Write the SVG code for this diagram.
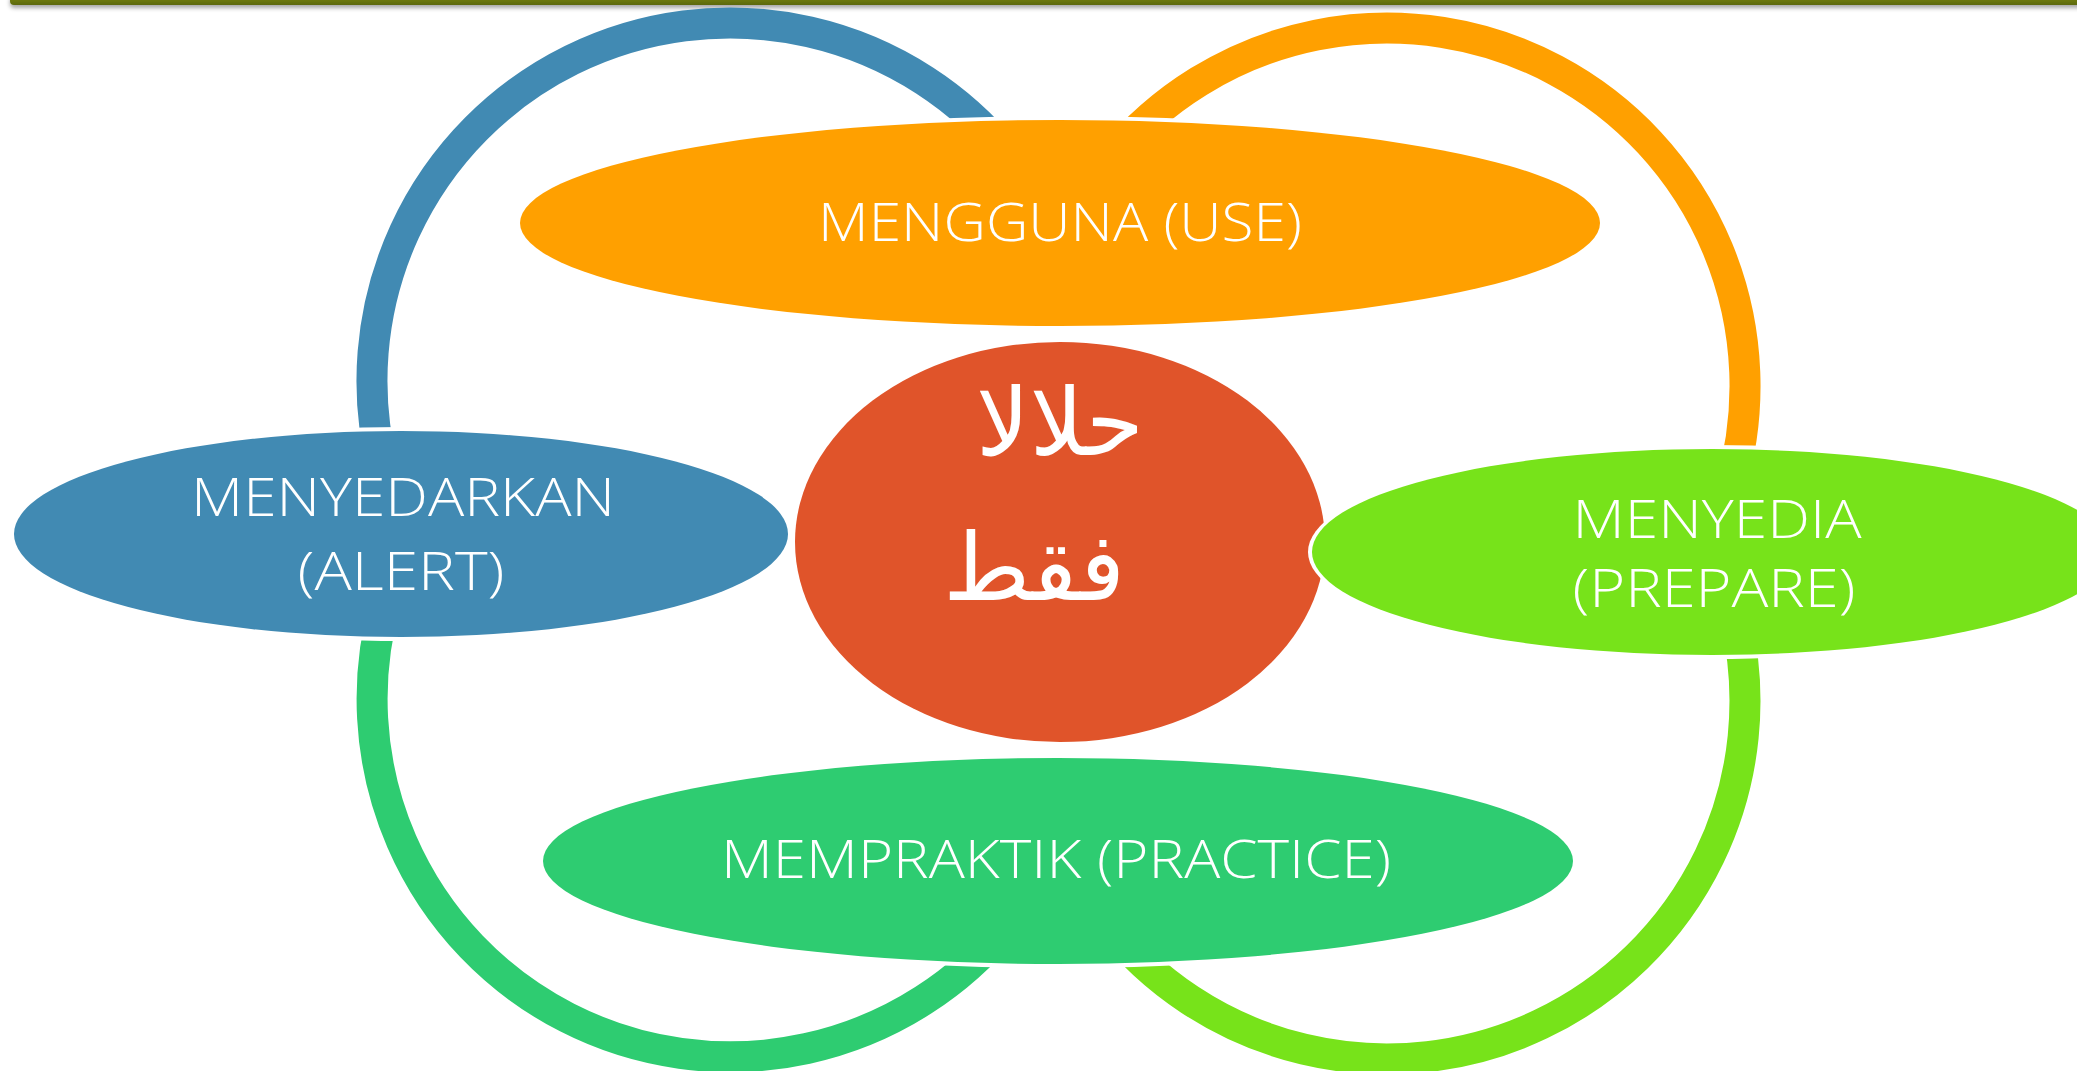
<svg xmlns="http://www.w3.org/2000/svg" width="2077" height="1071" viewBox="0 0 2077 1071">
  <defs>
    <style>
      .ring { fill: none; stroke-width: 31; stroke-linecap: butt; }
      .halo { fill: #ffffff; }
      .lbl { font-family: "Open Sans", "Liberation Sans", sans-serif; font-size: 53px; font-weight: 300; fill: #ffffff; text-anchor: middle; }
      .ar { font-family: "DejaVu Sans", "Noto Sans", sans-serif; font-size: 94px; fill: #ffffff; text-anchor: middle; }
    </style>
    <linearGradient id="bar" x1="0" y1="0" x2="0" y2="1">
      <stop offset="0" stop-color="#7e8c16"/>
      <stop offset="1" stop-color="#5c680c"/>
    </linearGradient>
    <filter id="sh" x="-1%" y="-100%" width="102%" height="400%">
      <feDropShadow dx="0" dy="3" stdDeviation="2" flood-color="#000000" flood-opacity="0.35"/>
    </filter>
  </defs>

  <rect x="0" y="0" width="2077" height="1071" fill="#ffffff"/>

  <!-- top bar -->
  <rect x="10" y="-6" width="2080" height="11" rx="4" fill="url(#bar)" filter="url(#sh)"/>

  <!-- connectors: rings -->
  <g id="connectors">
    <path class="ring" stroke="#418AB3" d="M 1011.6 160 A 358 358 0 0 0 383.2 470"/>
    <path class="ring" stroke="#FFA000" d="M 1109.4 160 A 358 358 0 0 1 1729.6 490"/>
    <path class="ring" stroke="#2ECC71" d="M 386 600 A 358 358 0 0 0 1011.6 920"/>
    <path class="ring" stroke="#77E31A" d="M 1735.7 620 A 358 358 0 0 1 1103.8 920"/>
  </g>

  <g id="node-use">
    <ellipse class="halo" cx="1060" cy="223" rx="544" ry="107"/>
    <ellipse cx="1060" cy="223" rx="540" ry="103" fill="#FFA000"/>
    <text class="lbl" x="1060" y="241" textLength="484" lengthAdjust="spacingAndGlyphs">MENGGUNA (USE)</text>
  </g>

  <g id="node-alert">
    <ellipse class="halo" cx="401" cy="534" rx="391" ry="107"/>
    <ellipse cx="401" cy="534" rx="387" ry="103" fill="#418AB3"/>
    <text class="lbl" x="403" y="516" textLength="424" lengthAdjust="spacingAndGlyphs">MENYEDARKAN</text>
    <text class="lbl" x="401" y="590" textLength="207" lengthAdjust="spacingAndGlyphs">(ALERT)</text>
  </g>

  <g id="node-center">
    <ellipse cx="1060" cy="542" rx="265" ry="200" fill="#E0542A"/>
    <text class="ar" x="1060" y="455">حلالا</text>
    <text class="ar" x="1034" y="600">فقط</text>
  </g>

  <g id="node-prepare">
    <ellipse class="halo" cx="1712" cy="552" rx="404" ry="107"/>
    <ellipse cx="1712" cy="552" rx="400" ry="103" fill="#77E31A"/>
    <text class="lbl" x="1717" y="538" textLength="289" lengthAdjust="spacingAndGlyphs">MENYEDIA</text>
    <text class="lbl" x="1714" y="607" textLength="283" lengthAdjust="spacingAndGlyphs">(PREPARE)</text>
  </g>

  <g id="node-practice">
    <ellipse class="halo" cx="1058" cy="861" rx="519" ry="107"/>
    <ellipse cx="1058" cy="861" rx="515" ry="103" fill="#2ECC71"/>
    <text class="lbl" x="1056" y="878" textLength="670" lengthAdjust="spacingAndGlyphs">MEMPRAKTIK (PRACTICE)</text>
  </g>
</svg>
